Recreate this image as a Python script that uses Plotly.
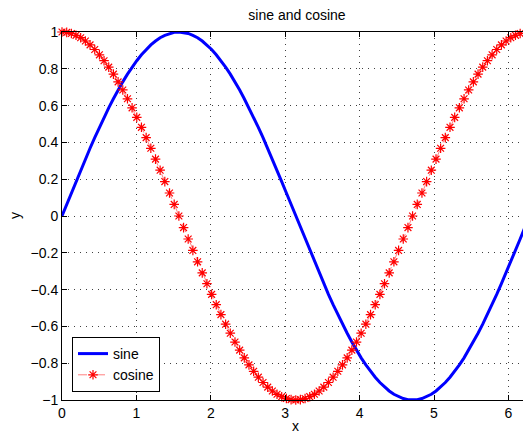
import plotly.graph_objects as go

x_values = [
    0.0, 0.063, 0.126, 0.188, 0.251, 0.314, 0.377, 0.440, 0.503, 0.565,
    0.628, 0.691, 0.754, 0.817, 0.880, 0.942, 1.005, 1.068, 1.131, 1.194,
    1.257, 1.319, 1.382, 1.445, 1.508, 1.571, 1.634, 1.696, 1.759, 1.822,
    1.885, 1.948, 2.011, 2.073, 2.136, 2.199, 2.262, 2.325, 2.388, 2.450,
    2.513, 2.576, 2.639, 2.702, 2.765, 2.827, 2.890, 2.953, 3.016, 3.079,
    3.142, 3.204, 3.267, 3.330, 3.393, 3.456, 3.519, 3.581, 3.644, 3.707,
    3.770, 3.833, 3.896, 3.958, 4.021, 4.084, 4.147, 4.210, 4.273, 4.335,
    4.398, 4.461, 4.524, 4.587, 4.650, 4.712, 4.775, 4.838, 4.901, 4.964,
    5.027, 5.089, 5.152, 5.215, 5.278, 5.341, 5.404, 5.466, 5.529, 5.592,
    5.655, 5.718, 5.781, 5.843, 5.906, 5.969, 6.032, 6.095, 6.158, 6.220,
    6.283,
]

sine_values = [
    0.0, 0.063, 0.125, 0.187, 0.249, 0.309, 0.368, 0.426, 0.482, 0.536,
    0.588, 0.637, 0.685, 0.729, 0.771, 0.809, 0.844, 0.876, 0.905, 0.930,
    0.951, 0.969, 0.982, 0.992, 0.998, 1.0, 0.998, 0.992, 0.982, 0.969,
    0.951, 0.930, 0.905, 0.876, 0.844, 0.809, 0.771, 0.729, 0.685, 0.637,
    0.588, 0.536, 0.482, 0.426, 0.368, 0.309, 0.249, 0.187, 0.125, 0.063,
    0.0, -0.063, -0.125, -0.187, -0.249, -0.309, -0.368, -0.426, -0.482, -0.536,
    -0.588, -0.637, -0.685, -0.729, -0.771, -0.809, -0.844, -0.876, -0.905, -0.930,
    -0.951, -0.969, -0.982, -0.992, -0.998, -1.0, -0.998, -0.992, -0.982, -0.969,
    -0.951, -0.930, -0.905, -0.876, -0.844, -0.809, -0.771, -0.729, -0.685, -0.637,
    -0.588, -0.536, -0.482, -0.426, -0.368, -0.309, -0.249, -0.187, -0.125, -0.063,
    0.0,
]

cosine_values = [
    1.0, 0.998, 0.992, 0.982, 0.969, 0.951, 0.930, 0.905, 0.876, 0.844,
    0.809, 0.771, 0.729, 0.685, 0.637, 0.588, 0.536, 0.482, 0.426, 0.368,
    0.309, 0.249, 0.187, 0.125, 0.063, 0.0, -0.063, -0.125, -0.187, -0.249,
    -0.309, -0.368, -0.426, -0.482, -0.536, -0.588, -0.637, -0.685, -0.729, -0.771,
    -0.809, -0.844, -0.876, -0.905, -0.930, -0.951, -0.969, -0.982, -0.992, -0.998,
    -1.0, -0.998, -0.992, -0.982, -0.969, -0.951, -0.930, -0.905, -0.876, -0.844,
    -0.809, -0.771, -0.729, -0.685, -0.637, -0.588, -0.536, -0.482, -0.426, -0.368,
    -0.309, -0.249, -0.187, -0.125, -0.063, 0.0, 0.063, 0.125, 0.187, 0.249,
    0.309, 0.368, 0.426, 0.482, 0.536, 0.588, 0.637, 0.685, 0.729, 0.771,
    0.809, 0.844, 0.876, 0.905, 0.930, 0.951, 0.969, 0.982, 0.992, 0.998,
    1.0,
]

x_ticks = [0, 1, 2, 3, 4, 5, 6]
y_ticks = [-1, -0.8, -0.6, -0.4, -0.2, 0, 0.2, 0.4, 0.6, 0.8, 1]
y_tick_labels = ["\u22121", "\u22120.8", "\u22120.6", "\u22120.4", "\u22120.2", "0",
                 "0.2", "0.4", "0.6", "0.8", "1"]

FONT = "Liberation Sans, Arial, Helvetica, sans-serif"
W, H = 523, 432
L, T, B = 62, 32, 32
plot_w = W - L
plot_h = H - T - B

fig = go.Figure()
fig.add_trace(go.Scatter(
    x=x_values, y=sine_values, name="sine", mode="lines",
    line=dict(color="#0000ff", width=3), cliponaxis=False,
))
fig.add_trace(go.Scatter(
    x=x_values, y=cosine_values, name="cosine", mode="lines+markers",
    line=dict(color="#ff0000", width=0.5, dash="dash"),
    marker=dict(symbol="asterisk-open", size=8, color="#ff0000",
                line=dict(color="#ff0000", width=1.2)),
    cliponaxis=False,
))

grid_common = dict(
    showgrid=True, gridcolor="#404040", gridwidth=1, griddash="1px,5px",
    zeroline=False, showline=True, linecolor="black", linewidth=1,
    ticks="inside", ticklen=5, tickcolor="black", tickwidth=1,
    tickfont=dict(family=FONT, size=14, color="black"),
)

fig.update_layout(
    width=W, height=H,
    margin=dict(l=L, r=0, t=T, b=B, pad=0, autoexpand=False),
    paper_bgcolor="white", plot_bgcolor="white",
    font=dict(family=FONT, size=14, color="black"),
    title=dict(text="sine and cosine", x=297 / W, xref="container", xanchor="center",
               y=1 - 15 / H, yref="container", yanchor="middle",
               font=dict(family=FONT, size=14, color="black")),
    xaxis=dict(range=[0, plot_w / 74.4], tickvals=x_ticks, mirror="ticks", **grid_common),
    yaxis=dict(range=[-1, 1], tickvals=y_ticks, ticktext=y_tick_labels, mirror=False,
               **grid_common),
    showlegend=True,
    legend=dict(x=10 / plot_w, y=8 / plot_h, xanchor="left", yanchor="bottom",
                bgcolor="white", bordercolor="black", borderwidth=1,
                font=dict(family=FONT, size=14, color="black"),
                tracegroupgap=0, itemwidth=30, entrywidth=58, entrywidthmode="pixels"),
    annotations=[
        dict(text="x", xref="paper", yref="paper", x=(295 - L) / plot_w,
             y=-(426 - (H - B)) / plot_h, xanchor="center", yanchor="middle",
             showarrow=False, font=dict(family=FONT, size=14, color="black")),
        dict(text="y", xref="paper", yref="paper", x=-(L - 15) / plot_w, y=0.5,
             xanchor="center", yanchor="middle", textangle=-90,
             showarrow=False, font=dict(family=FONT, size=14, color="black")),
    ],
)

fig.write_html(
    "out.html",
    config={"displayModeBar": False},
    post_script="document.body.style.margin='0';document.body.style.overflow='hidden';",
)
